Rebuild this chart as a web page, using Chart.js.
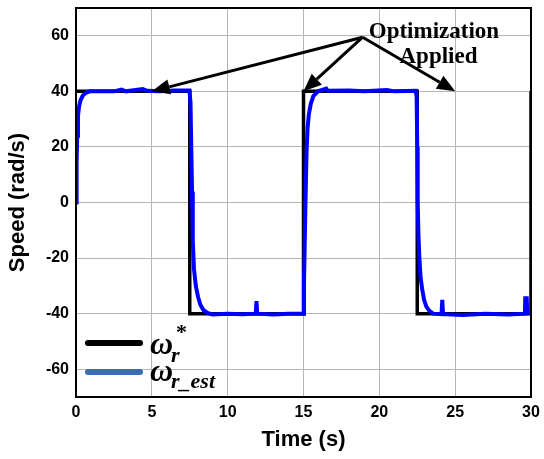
<!DOCTYPE html>
<html>
<head>
<meta charset="utf-8">
<script src="https://cdn.jsdelivr.net/npm/chart.js@4"></script>
<style>
  html, body { margin: 0; padding: 0; background: #fff; }
  #wrap { width: 544px; height: 459px; }
</style>
</head>
<body>
<div id="wrap"><canvas id="speedChart"></canvas></div>
<script>
// axis ticks
const xTicks = [0, 5, 10, 15, 20, 25, 30];
const yTicks = [-60, -40, -20, 0, 20, 40, 60];

// reference speed (black step)
const refTime  = [0, 7.5, 7.5, 15, 15, 22.5, 22.5, 30, 30];
const refSpeed = [40, 40, -40, -40, 40, 40, -40, -40, 40];

// estimated speed (blue)
const estTime = [
    0, 0.04, 0.08, 0.13, 0.2, 0.3, 0.45, 0.65, 0.9, 2.5, 3.0, 3.3, 4.4, 4.7, 5.5, 6.5,
    7.48, 7.55, 7.6, 7.65, 7.7, 7.78, 7.9, 8.05, 8.2, 8.4, 8.7, 9.0, 10, 11, 11.85, 11.9, 11.95, 13, 14,
    15.0, 15.03, 15.08, 15.13, 15.2, 15.27, 15.36, 15.48, 15.65, 15.95, 16.5, 16.6, 18, 19, 20.5, 21,
    22.4, 22.46, 22.5, 22.53, 22.58, 22.64, 22.72, 22.82, 22.95, 23.1, 23.3, 23.55, 24.1, 24.15, 24.2,
    25.5, 27, 28.5, 29.6, 29.62, 29.72, 29.75, 30
];
const estSpeed = [
    0, 14, 24, 31, 34.5, 36.8, 38.5, 39.4, 40, 40, 40.6, 40, 40.8, 40.2, 40, 40.3,
    40.3, 36, 20, 4, -14, -24, -30, -34, -36.8, -38.7, -39.8, -40.3, -40, -40.2, -40, -35.5, -40, -40.3, -40,
    -40, -30, -15, 0, 18, 27, 32, 35.5, 38.3, 40, 41, 40.2, 40.3, 40, 40.5, 40,
    40.2, 38, 20, 0, -12, -20, -27, -31, -35, -37.5, -39, -40, -40.2, -35, -40.2,
    -40.5, -40, -40.3, -40, -34.5, -34.5, -39.5, -40
];

// annotation
const arrowFrom = [18.9, 59.5];
const arrowToX = [5, 15, 25];
const arrowToY = [40, 40, 40];
const noteLines = ['Optimization', 'Applied'];
const notePosX = [23.6, 23.9];
const notePosY = [61.2, 52.2];

function toPoints(xs, ys) {
    return xs.map(function (x, i) { return { x: x, y: ys[i] }; });
}

const annotations = {
    id: 'annotations',
    afterDatasetsDraw(chart) {
        const ctx = chart.ctx;
        const xs = chart.scales.x, ys = chart.scales.y;
        const a = chart.chartArea;
        ctx.save();
        // frame
        ctx.strokeStyle = '#000';
        ctx.lineWidth = 2;
        ctx.strokeRect(a.left, a.top, a.right - a.left, a.bottom - a.top);

        // arrows
        const fx = xs.getPixelForValue(arrowFrom[0]);
        const fy = ys.getPixelForValue(arrowFrom[1]);
        for (let i = 0; i < arrowToX.length; i++) {
            const tx = xs.getPixelForValue(arrowToX[i]);
            const ty = ys.getPixelForValue(arrowToY[i]);
            const ang = Math.atan2(ty - fy, tx - fx);
            const len = 18, half = 7.5;
            const bx = tx - len * Math.cos(ang), by = ty - len * Math.sin(ang);
            ctx.strokeStyle = '#000';
            ctx.lineWidth = 3;
            ctx.beginPath();
            ctx.moveTo(fx, fy);
            ctx.lineTo(bx, by);
            ctx.stroke();
            ctx.fillStyle = '#000';
            ctx.beginPath();
            ctx.moveTo(tx, ty);
            ctx.lineTo(bx + half * Math.sin(ang), by - half * Math.cos(ang));
            ctx.lineTo(bx - half * Math.sin(ang), by + half * Math.cos(ang));
            ctx.closePath();
            ctx.fill();
        }

        // note text
        ctx.fillStyle = '#000';
        ctx.font = 'bold 23px "Liberation Serif", "Times New Roman", serif';
        ctx.textAlign = 'center';
        ctx.textBaseline = 'middle';
        for (let i = 0; i < noteLines.length; i++) {
            ctx.fillText(noteLines[i], xs.getPixelForValue(notePosX[i]), ys.getPixelForValue(notePosY[i]));
        }

        // legend
        const lx = a.left + 9, ly = a.bottom - 54;
        ctx.lineCap = 'round';
        ctx.lineWidth = 6;
        ctx.strokeStyle = '#000';
        ctx.beginPath(); ctx.moveTo(lx + 3, ly); ctx.lineTo(lx + 55, ly); ctx.stroke();
        ctx.strokeStyle = '#3a6db2';
        ctx.beginPath(); ctx.moveTo(lx + 3, ly + 29); ctx.lineTo(lx + 55, ly + 29); ctx.stroke();

        ctx.textAlign = 'left';
        ctx.textBaseline = 'alphabetic';
        ctx.font = 'italic bold 32px "Liberation Serif", "Times New Roman", serif';
        ctx.fillText('\u03c9', lx + 65, ly + 11);
        ctx.fillText('\u03c9', lx + 65, ly + 38);
        ctx.font = 'italic bold 22px "Liberation Serif", "Times New Roman", serif';
        ctx.fillText('r', lx + 86, ly + 19);
        ctx.fillText('r_est', lx + 86, ly + 45);
        ctx.font = 'bold 22px "Liberation Serif", "Times New Roman", serif';
        ctx.fillText('*', lx + 91, ly - 4);
        ctx.restore();
    }
};

new Chart(document.getElementById('speedChart'), {
    type: 'scatter',
    data: {
        datasets: [
            {
                label: 'estimated',
                data: toPoints(estTime, estSpeed),
                showLine: true,
                borderColor: '#0000ff',
                borderWidth: 4,
                pointRadius: 0,
                tension: 0,
                order: 1
            },
            {
                label: 'reference',
                data: toPoints(refTime, refSpeed),
                showLine: true,
                borderColor: '#000',
                borderWidth: 3.5,
                pointRadius: 0,
                tension: 0,
                order: 2
            }
        ]
    },
    options: {
        responsive: true,
        maintainAspectRatio: false,
        animation: false,
        events: [],
        layout: { padding: { left: 0, top: 8, right: 13, bottom: 0 } },
        plugins: {
            legend: { display: false },
            tooltip: { enabled: false }
        },
        scales: {
            x: {
                type: 'linear',
                min: 0,
                max: 30,
                afterBuildTicks: function (s) { s.ticks = xTicks.map(function (v) { return { value: v }; }); },
                afterFit: function (s) { s.height = 62; s.paddingLeft = 0; s.paddingRight = 0; },
                grid: { color: '#b5b5b5', lineWidth: 1, drawTicks: false },
                border: { color: '#000', width: 2 },
                ticks: {
                    color: '#000',
                    padding: 6,
                    font: { family: '"Liberation Sans", Arial, sans-serif', size: 16, weight: 'bold' }
                },
                title: {
                    display: true,
                    text: 'Time (s)',
                    color: '#000',
                    padding: { top: 0, bottom: 6 },
                    font: { family: '"Liberation Sans", Arial, sans-serif', size: 22, weight: 'bold' }
                }
            },
            y: {
                type: 'linear',
                min: -70,
                max: 70,
                afterBuildTicks: function (s) { s.ticks = yTicks.map(function (v) { return { value: v }; }); },
                afterFit: function (s) { s.width = 76; s.paddingTop = 0; s.paddingBottom = 0; },
                grid: { color: '#b5b5b5', lineWidth: 1, drawTicks: false },
                border: { color: '#000', width: 2 },
                ticks: {
                    color: '#000',
                    padding: 7,
                    font: { family: '"Liberation Sans", Arial, sans-serif', size: 16, weight: 'bold' }
                },
                title: {
                    display: true,
                    text: 'Speed (rad/s)',
                    color: '#000',
                    padding: { top: 5, bottom: 0 },
                    font: { family: '"Liberation Sans", Arial, sans-serif', size: 22, weight: 'bold' }
                }
            }
        }
    },
    plugins: [annotations]
});
</script>
</body>
</html>
